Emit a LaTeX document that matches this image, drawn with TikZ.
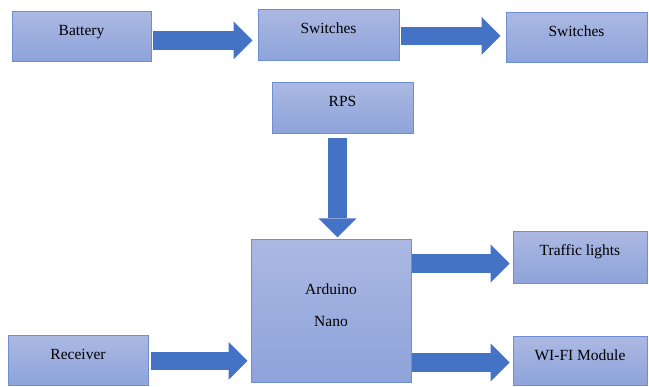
\documentclass[tikz,border=0pt]{standalone}
\usepackage{fontspec}
\setmainfont{Liberation Serif}
\usetikzlibrary{arrows.meta}
\definecolor{boxtop}{RGB}{171,184,226}
\definecolor{boxbot}{RGB}{141,163,218}
\definecolor{boxline}{RGB}{110,142,212}
\definecolor{arrowblue}{RGB}{68,114,196}
\tikzset{
  block/.style={draw=boxline, line width=1pt, top color=boxtop, bottom color=boxbot,
    inner sep=0pt, rectangle},
  txt/.style={anchor=base, yshift=-24pt, font=\fontsize{15.5}{18}\selectfont, text=black},
  bigarrow/.style={line width=18.5pt, draw=arrowblue,
    -{Triangle[length=19pt,width=38pt,line width=0pt,fill=arrowblue]}}
}
\begin{document}
\begin{tikzpicture}[x=1pt,y=1pt]
\useasboundingbox (0,0) rectangle (649,-387);
\node[block, minimum width=139pt, minimum height=50pt, label={[txt]north:Battery}] (bat) at (81.5,-37) {};
\node[block, minimum width=141pt, minimum height=51pt, label={[txt]north:Switches}] (sw1) at (328.5,-35.5) {};
\node[block, minimum width=141pt, minimum height=50pt, label={[txt]north:Switches}] (sw2) at (576.5,-38) {};
\node[block, minimum width=141pt, minimum height=51pt, label={[txt]north:RPS}] (rps) at (342.5,-108.5) {};
\node[block, minimum width=160pt, minimum height=143pt,
  label={[txt, anchor=center, yshift=30pt, align=center]center:Arduino\\[14pt]Nano}] (ard) at (331,-311.5) {};
\node[block, minimum width=134pt, minimum height=52pt, label={[txt]north:Traffic lights}] (tl) at (580,-258) {};
\node[block, minimum width=134pt, minimum height=49pt, label={[txt]north:WI-FI Module}] (wifi) at (580,-361.5) {};
\node[block, minimum width=140pt, minimum height=50pt, label={[txt]north:Receiver}] (rec) at (78,-361) {};

\draw[bigarrow, shorten <=1pt, shorten >=5pt] ([yshift=-3.5pt]bat.east) -- ([yshift=-3.5pt]bat.east -| sw1.west);
\draw[bigarrow, shorten <=1pt, shorten >=5pt] ([yshift=-0.5pt]sw1.east) -- ([yshift=-0.5pt]sw1.east -| sw2.west);
\draw[bigarrow, shorten <=4pt, shorten >=2pt] ([xshift=-5pt]rps.south) -- ([xshift=-5pt]rps.south |- ard.north);
\draw[bigarrow, shorten >=3pt] ([yshift=48pt]ard.east) -- ([yshift=48pt]ard.east -| tl.west);
\draw[bigarrow, shorten >=3pt] ([yshift=-51pt]ard.east) -- ([yshift=-51pt]ard.east -| wifi.west);
\draw[bigarrow, shorten <=2pt, shorten >=3pt] (rec.east) -- (rec.east -| ard.west);
\end{tikzpicture}
\end{document}
